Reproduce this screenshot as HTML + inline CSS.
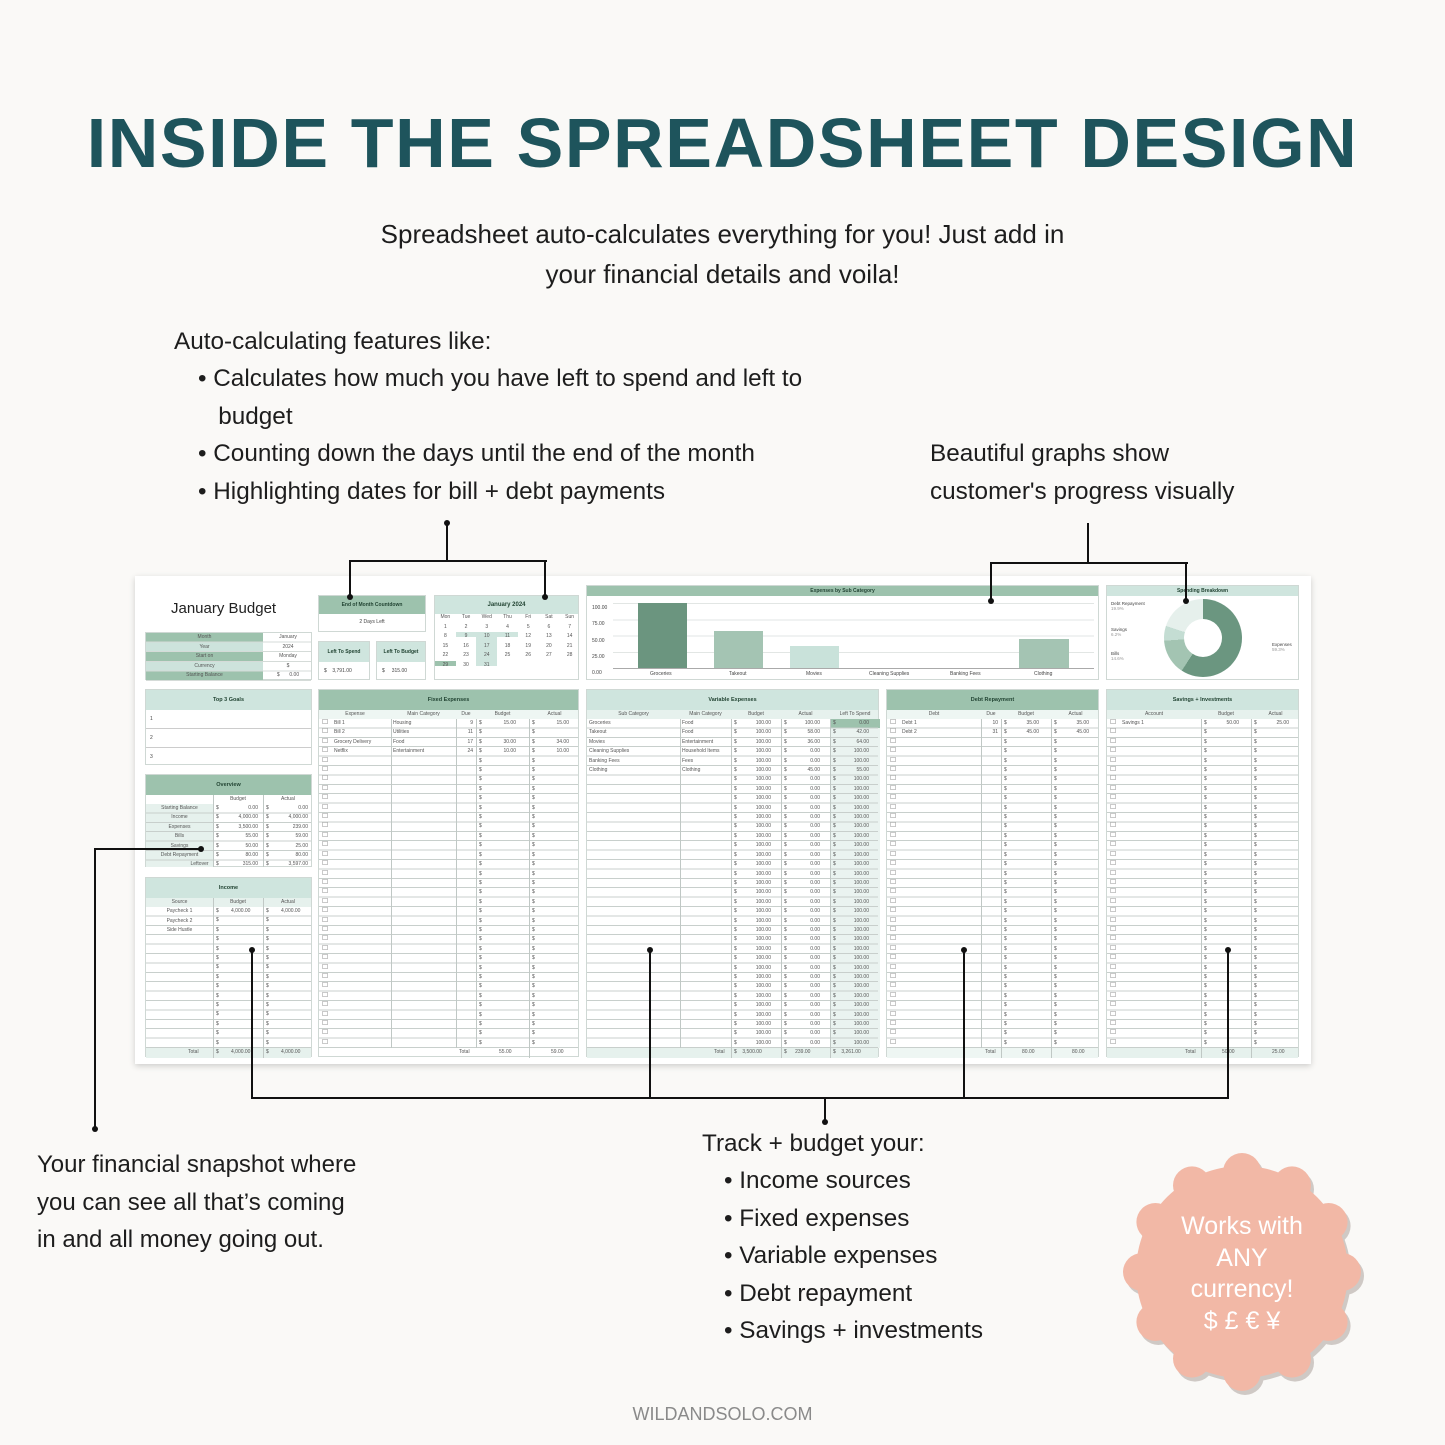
<!DOCTYPE html>
<html><head><meta charset="utf-8"><style>
*{margin:0;padding:0;box-sizing:border-box}
body{width:1445px;height:1445px;background:#faf9f7;position:relative;overflow:hidden;font-family:"Liberation Sans",sans-serif;color:#1d1d1d}
.a{position:absolute}
.t{font-size:24.3px;white-space:nowrap}
.ln{position:absolute;background:#111}
.dot{position:absolute;width:6px;height:6px;border-radius:50%;background:#111}
.sheet{position:absolute;left:135px;top:576px;width:1176px;height:488px;background:#fff;box-shadow:0 2px 6px rgba(0,0,0,.18)}
.s{position:absolute;font-size:5px;color:#444;white-space:nowrap}
.p{position:absolute;border:1px solid #cfd8d4;background:#fff}
.hg{position:absolute;left:0;right:0;top:0;background:#9dc2ad;font-size:5.5px;font-weight:bold;color:#243;text-align:center}
.hl{position:absolute;left:0;right:0;top:0;background:#cfe5de;font-size:5.5px;font-weight:bold;color:#243;text-align:center}
.rows{position:absolute;left:0;right:0;background-image:repeating-linear-gradient(to bottom,transparent 0 8.4px,#c8cfcc 8.4px 9.4px)}
.sub{position:absolute;left:0;right:0;background:#e6f1ed;font-size:5px;color:#444}
.vl{position:absolute;width:1px;background:#c0c8c5}
.col{position:absolute;font-size:5px;line-height:9.4px;color:#555;word-wrap:break-word}
.cbs{position:absolute;width:8px;font-family:"DejaVu Sans",sans-serif;font-size:7px;line-height:9.4px;color:#777;word-wrap:break-word}
</style></head><body>

<div class="a" style="left:0;width:1445px;top:100px;text-align:center;font-size:70px;font-weight:bold;letter-spacing:1.6px;color:#1e545c;line-height:86px">INSIDE THE SPREADSHEET DESIGN</div>

<div class="a t" style="left:0;width:1445px;text-align:center;top:214px;line-height:40px;font-size:26px">Spreadsheet auto-calculates everything for you! Just add in<br>your financial details and voila!</div>

<div class="a t" style="left:174px;top:323px;line-height:37.5px">Auto-calculating features like:</div>
<div class="a t" style="left:198px;top:360px;line-height:37.5px">•&nbsp;Calculates how much you have left to spend and left to<br>&nbsp;&nbsp;&nbsp;budget<br>•&nbsp;Counting down the days until the end of the month<br>•&nbsp;Highlighting dates for bill + debt payments</div>
<div class="a t" style="left:930px;top:435px;line-height:37.5px">Beautiful graphs show<br>customer's progress visually</div>

<div class="a t" style="left:37px;top:1146px;line-height:37.5px;font-size:24px">Your financial snapshot where<br>you can see all that’s coming<br>in and all money going out.</div>
<div class="a t" style="left:702px;top:1125px;line-height:37.5px">Track + budget your:</div>
<div class="a t" style="left:724px;top:1162px;line-height:37.5px">•&nbsp;Income sources<br>•&nbsp;Fixed expenses<br>•&nbsp;Variable expenses<br>•&nbsp;Debt repayment<br>•&nbsp;Savings + investments</div>

<div class="a" style="left:0;width:1445px;text-align:center;top:1404px;font-size:18px;color:#8a8a8a">WILDANDSOLO.COM</div>

<!-- badge -->
<svg class="a" style="left:1115px;top:1145px" width="255" height="255" viewBox="0 0 255 255">
<g fill="#a59a95" opacity=".5" transform="translate(3,4)">
<circle cx="127" cy="127" r="106"/>
<circle cx="127" cy="27" r="19"/><circle cx="177" cy="40.4" r="19"/><circle cx="213.6" cy="77" r="19"/><circle cx="227" cy="127" r="19"/><circle cx="213.6" cy="177" r="19"/><circle cx="177" cy="213.6" r="19"/><circle cx="127" cy="227" r="19"/><circle cx="77" cy="213.6" r="19"/><circle cx="40.4" cy="177" r="19"/><circle cx="27" cy="127" r="19"/><circle cx="40.4" cy="77" r="19"/><circle cx="77" cy="40.4" r="19"/>
</g>
<g fill="#f2b8a6">
<circle cx="127" cy="127" r="106"/>
<circle cx="127" cy="27" r="19"/><circle cx="177" cy="40.4" r="19"/><circle cx="213.6" cy="77" r="19"/><circle cx="227" cy="127" r="19"/><circle cx="213.6" cy="177" r="19"/><circle cx="177" cy="213.6" r="19"/><circle cx="127" cy="227" r="19"/><circle cx="77" cy="213.6" r="19"/><circle cx="40.4" cy="177" r="19"/><circle cx="27" cy="127" r="19"/><circle cx="40.4" cy="77" r="19"/><circle cx="77" cy="40.4" r="19"/>
</g></svg>
<div class="a" style="left:1142px;width:200px;top:1211px;text-align:center;color:#fff;font-size:25px;line-height:31.5px">Works with<br>ANY<br>currency!<br>$ £ € ¥</div>

<div class="sheet"></div>

<div class="a" style="left:171px;top:600px;font-size:15px;color:#222">January Budget</div>
<div class="p" style="left:145px;top:632px;width:167px;height:48px">
 <div class="a" style="left:0;top:0;width:117px;height:48px;background:repeating-linear-gradient(to bottom,#9dc2ad 0 9.6px,#cde3dc 9.6px 19.2px)"></div>
 <div class="rows" style="top:0;height:48px;background-image:repeating-linear-gradient(to bottom,transparent 0 8.6px,#d5dbd8 8.6px 9.6px)"></div>
 <div class="col" style="left:0;width:117px;top:0;text-align:center;line-height:9.6px">Month<br>Year<br>Start on<br>Currency<br>Starting Balance</div>
 <div class="col" style="left:117px;width:50px;top:0;text-align:center;line-height:9.6px">January<br>2024<br>Monday<br>$<br>$ &nbsp;&nbsp;&nbsp;&nbsp;&nbsp;&nbsp;0.00</div>
</div>

<div class="p" style="left:318px;top:595px;width:108px;height:37px"><div class="hg" style="height:18px;line-height:18px;font-size:5px">End of Month Countdown</div><div class="s" style="left:0;right:0;top:23px;text-align:center">2 Days Left</div></div>
<div class="p" style="left:318px;top:641px;width:52px;height:39px"><div class="hl" style="height:20px;line-height:20px;font-size:5px">Left To Spend</div><div class="s" style="left:5px;top:26px">$ &nbsp;&nbsp;&nbsp;3,791.00</div></div>
<div class="p" style="left:376px;top:641px;width:50px;height:39px"><div class="hl" style="height:20px;line-height:20px;font-size:5px">Left To Budget</div><div class="s" style="left:5px;top:26px">$ &nbsp;&nbsp;&nbsp;&nbsp;315.00</div></div>

<div class="p" style="left:434px;top:595px;width:145px;height:85px">
 <div class="hl" style="height:18px;line-height:18px;font-size:6px">January 2024</div>
 <div class="a" style="left:20.7px;top:36px;width:20.7px;height:5px;background:#cfe5de"></div>
 <div class="a" style="left:41.4px;top:36px;width:20.7px;height:34px;background:#cfe5de"></div>
 <div class="a" style="left:62.1px;top:36px;width:20.7px;height:5px;background:#cfe5de"></div>
 <div class="a" style="left:0;top:65px;width:20.7px;height:5px;background:#9dc2ad"></div>
 <div class="col" style="left:0;top:17px;width:145px;line-height:9.6px;font-size:5px">
 <div style="display:grid;grid-template-columns:repeat(7,1fr);text-align:center">
 <span>Mon</span><span>Tue</span><span>Wed</span><span>Thu</span><span>Fri</span><span>Sat</span><span>Sun</span>
 <span>1</span><span>2</span><span>3</span><span>4</span><span>5</span><span>6</span><span>7</span>
 <span>8</span><span>9</span><span>10</span><span>11</span><span>12</span><span>13</span><span>14</span>
 <span>15</span><span>16</span><span>17</span><span>18</span><span>19</span><span>20</span><span>21</span>
 <span>22</span><span>23</span><span>24</span><span>25</span><span>26</span><span>27</span><span>28</span>
 <span>29</span><span>30</span><span>31</span></div></div>
</div>

<div class="p" style="left:586px;top:585px;width:513px;height:95px">
 <div class="hg" style="height:10px;line-height:10px;font-size:5px">Expenses by Sub Category</div>
 <div class="s" style="left:5px;top:14px;line-height:16.3px">100.00<br>75.00<br>50.00<br>25.00<br>0.00</div>
 <div class="a" style="left:26px;right:4px;top:17px;height:66px;background:repeating-linear-gradient(to bottom,#e2e6e4 0 1px,transparent 1px 16.3px)"></div>
 <div class="a" style="left:26px;right:4px;top:82px;height:1px;background:#aaa"></div>
 <div class="a" style="left:51px;top:17px;width:49px;height:65px;background:#6b957f"></div>
 <div class="a" style="left:127px;top:45px;width:49px;height:37px;background:#a4c4b3"></div>
 <div class="a" style="left:203px;top:60px;width:49px;height:22px;background:#c9e2da"></div>
 <div class="a" style="left:432px;top:53px;width:50px;height:29px;background:#a4c4b3"></div>
 <div class="s" style="left:63px;top:85px">Groceries</div><div class="s" style="left:142px;top:85px">Takeout</div><div class="s" style="left:219px;top:85px">Movies</div><div class="s" style="left:282px;top:85px">Cleaning Supplies</div><div class="s" style="left:363px;top:85px">Banking Fees</div><div class="s" style="left:447px;top:85px">Clothing</div>
</div>

<div class="p" style="left:1106px;top:585px;width:193px;height:95px">
 <div class="hl" style="height:10px;line-height:10px;font-size:5px">Spending Breakdown</div>
 <div class="a" style="left:57px;top:13px;width:78px;height:78px;border-radius:50%;background:conic-gradient(#6b9680 0 213deg,#a3c4b2 213deg 266deg,#c4ddd3 266deg 288deg,#e6f0ec 288deg 360deg)"></div>
 <div class="a" style="left:77px;top:33px;width:38px;height:38px;border-radius:50%;background:#fff"></div>
 <div class="s" style="left:4px;top:15px;line-height:5px;font-size:4.5px">Debt Repayment<br><span style="color:#999">19.9%</span></div>
 <div class="s" style="left:4px;top:41px;line-height:5px;font-size:4.5px">Savings<br><span style="color:#999">6.2%</span></div>
 <div class="s" style="left:4px;top:65px;line-height:5px;font-size:4.5px">Bills<br><span style="color:#999">14.6%</span></div>
 <div class="s" style="left:165px;top:56px;line-height:5px;font-size:4.5px">Expenses<br><span style="color:#999">59.3%</span></div>
</div>

<div class="p" style="left:145px;top:689px;width:167px;height:76px">
 <div class="hl" style="height:20px;line-height:20px">Top 3 Goals</div>
 <div class="a" style="left:0;right:0;top:38px;height:1px;background:#ccc"></div>
 <div class="a" style="left:0;right:0;top:57px;height:1px;background:#ccc"></div>
 <div class="s" style="left:4px;top:26px">1</div><div class="s" style="left:4px;top:45px">2</div><div class="s" style="left:4px;top:64px">3</div>
</div>

<div class="p" style="left:145px;top:774px;width:167px;height:93px">
 <div class="hg" style="height:20px;line-height:20px">Overview</div>
 <div class="a" style="left:0;top:29px;width:67px;height:63px;background:#e6f1ed"></div>
 <div class="rows" style="top:29px;height:63px"></div>
 <div class="vl" style="left:67px;top:20px;height:72px"></div><div class="vl" style="left:117px;top:20px;height:72px"></div>
 <div class="col" style="left:67px;width:50px;top:20px;text-align:center">Budget</div><div class="col" style="left:117px;width:50px;top:20px;text-align:center">Actual</div>
 <div class="col" style="left:0;width:67px;top:29px;text-align:center">Starting Balance<br>Income<br>Expenses<br>Bills<br>Savings<br>Debt Repayment<br><span style="padding-left:40px">Leftover</span></div>
 <div class="col" style="left:70px;width:42px;top:29px">$ <span style="float:right">0.00</span><br>$ <span style="float:right">4,000.00</span><br>$ <span style="float:right">3,500.00</span><br>$ <span style="float:right">55.00</span><br>$ <span style="float:right">50.00</span><br>$ <span style="float:right">80.00</span><br>$ <span style="float:right">315.00</span></div>
 <div class="col" style="left:120px;width:42px;top:29px">$ <span style="float:right">0.00</span><br>$ <span style="float:right">4,000.00</span><br>$ <span style="float:right">239.00</span><br>$ <span style="float:right">59.00</span><br>$ <span style="float:right">25.00</span><br>$ <span style="float:right">80.00</span><br>$ <span style="float:right">3,597.00</span></div>
</div>

<div class="p" style="left:145px;top:877px;width:167px;height:180px">
 <div class="hl" style="height:20px;line-height:20px">Income</div>
 <div class="sub" style="top:20px;height:9px"></div>
 <div class="rows" style="top:29px;height:141px"></div>
 <div class="sub" style="top:170px;height:10px"></div>
 <div class="vl" style="left:67px;top:20px;height:160px"></div><div class="vl" style="left:117px;top:20px;height:160px"></div>
 <div class="col" style="left:0;width:67px;top:20px;text-align:center">Source<br>Paycheck 1<br>Paycheck 2<br>Side Hustle</div>
 <div class="col" style="left:67px;width:50px;top:20px;text-align:center">Budget</div><div class="col" style="left:117px;width:50px;top:20px;text-align:center">Actual</div>
 <div class="col" style="left:70px;width:3px;top:29px">$ $ $ $ $ $ $ $ $ $ $ $ $ $ $ $</div>
 <div class="col" style="left:120px;width:3px;top:29px">$ $ $ $ $ $ $ $ $ $ $ $ $ $ $ $</div>
 <div class="col" style="left:85px;top:29px">4,000.00</div><div class="col" style="left:135px;top:29px">4,000.00</div>
 <div class="col" style="left:42px;top:170px">Total</div><div class="col" style="left:85px;top:170px">4,000.00</div><div class="col" style="left:135px;top:170px">4,000.00</div>
</div>

<div class="p" style="left:318px;top:689px;width:261px;height:368px">
 <div class="hg" style="height:20px;line-height:20px">Fixed Expenses</div>
 <div class="sub" style="top:20px;height:9px;background:#eef6f3"></div>
 <div class="rows" style="top:29px;height:329px"></div>
 <div class="vl" style="left:72px;top:29px;height:329px"></div><div class="vl" style="left:137px;top:29px;height:329px"></div><div class="vl" style="left:157px;top:29px;height:329px"></div><div class="vl" style="left:210px;top:29px;height:339px"></div>
 <div class="cbs" style="left:3px;top:28px">☐ ☐ ☐ ☐ ☐ ☐ ☐ ☐ ☐ ☐ ☐ ☐ ☐ ☐ ☐ ☐ ☐ ☐ ☐ ☐ ☐ ☐ ☐ ☐ ☐ ☐ ☐ ☐ ☐ ☐ ☐ ☐ ☐ ☐ ☐</div>
 <div class="col" style="left:0;width:72px;top:20px;text-align:center">Expense</div><div class="col" style="left:72px;width:65px;top:20px;text-align:center">Main Category</div><div class="col" style="left:137px;width:20px;top:20px;text-align:center">Due</div><div class="col" style="left:157px;width:53px;top:20px;text-align:center">Budget</div><div class="col" style="left:210px;width:51px;top:20px;text-align:center">Actual</div>
 <div class="col" style="left:15px;top:29px">Bill 1<br>Bill 2<br>Grocery Delivery<br>Netflix</div>
 <div class="col" style="left:74px;top:29px">Housing<br>Utilities<br>Food<br>Entertainment</div>
 <div class="col" style="left:137px;width:17px;top:29px;text-align:right">9<br>11<br>17<br>24</div>
 <div class="col" style="left:160px;width:3px;top:29px">$ $ $ $ $ $ $ $ $ $ $ $ $ $ $ $ $ $ $ $ $ $ $ $ $ $ $ $ $ $ $ $ $ $ $</div>
 <div class="col" style="left:213px;width:3px;top:29px">$ $ $ $ $ $ $ $ $ $ $ $ $ $ $ $ $ $ $ $ $ $ $ $ $ $ $ $ $ $ $ $ $ $ $</div>
 <div class="col" style="left:175px;width:22px;top:29px;text-align:right">15.00<br><br>30.00<br>10.00</div>
 <div class="col" style="left:228px;width:22px;top:29px;text-align:right">15.00<br><br>34.00<br>10.00</div>
 <div class="col" style="left:140px;top:358px">Total</div><div class="col" style="left:180px;top:358px">55.00</div><div class="col" style="left:232px;top:358px">59.00</div>
</div>

<div class="p" style="left:586px;top:689px;width:293px;height:368px">
 <div class="hl" style="height:20px;line-height:20px">Variable Expenses</div>
 <div class="sub" style="top:20px;height:9px"></div>
 <div class="a" style="left:243px;top:29px;width:50px;height:329px;background:#eaf3f0"></div>
 <div class="a" style="left:243px;top:29px;width:50px;height:9.4px;background:#9dc2ad"></div>
 <div class="rows" style="top:29px;height:329px"></div>
 <div class="sub" style="top:358px;height:10px"></div>
 <div class="vl" style="left:93px;top:29px;height:329px"></div><div class="vl" style="left:144px;top:29px;height:339px"></div><div class="vl" style="left:194px;top:29px;height:339px"></div><div class="vl" style="left:243px;top:29px;height:339px"></div>
 <div class="col" style="left:0;width:93px;top:20px;text-align:center">Sub Category</div><div class="col" style="left:93px;width:51px;top:20px;text-align:center">Main Category</div><div class="col" style="left:144px;width:50px;top:20px;text-align:center">Budget</div><div class="col" style="left:194px;width:49px;top:20px;text-align:center">Actual</div><div class="col" style="left:243px;width:50px;top:20px;text-align:center">Left To Spend</div>
 <div class="col" style="left:2px;top:29px">Groceries<br>Takeout<br>Movies<br>Cleaning Supplies<br>Banking Fees<br>Clothing</div>
 <div class="col" style="left:95px;top:29px">Food<br>Food<br>Entertainment<br>Household Items<br>Fees<br>Clothing</div>
 <div class="col" style="left:147px;width:3px;top:29px">$ $ $ $ $ $ $ $ $ $ $ $ $ $ $ $ $ $ $ $ $ $ $ $ $ $ $ $ $ $ $ $ $ $ $</div>
 <div class="col" style="left:197px;width:3px;top:29px">$ $ $ $ $ $ $ $ $ $ $ $ $ $ $ $ $ $ $ $ $ $ $ $ $ $ $ $ $ $ $ $ $ $ $</div>
 <div class="col" style="left:246px;width:3px;top:29px">$ $ $ $ $ $ $ $ $ $ $ $ $ $ $ $ $ $ $ $ $ $ $ $ $ $ $ $ $ $ $ $ $ $ $</div>
 <div class="col" style="left:166px;width:18px;top:29px;text-align:right">100.00 100.00 100.00 100.00 100.00 100.00 100.00 100.00 100.00 100.00 100.00 100.00 100.00 100.00 100.00 100.00 100.00 100.00 100.00 100.00 100.00 100.00 100.00 100.00 100.00 100.00 100.00 100.00 100.00 100.00 100.00 100.00 100.00 100.00 100.00</div>
 <div class="col" style="left:215px;width:18px;top:29px;text-align:right">100.00<br>58.00<br>36.00<br>0.00<br>0.00<br>45.00<br>0.00<br>0.00<br>0.00<br>0.00<br>0.00<br>0.00<br>0.00<br>0.00<br>0.00<br>0.00<br>0.00<br>0.00<br>0.00<br>0.00<br>0.00<br>0.00<br>0.00<br>0.00<br>0.00<br>0.00<br>0.00<br>0.00<br>0.00<br>0.00<br>0.00<br>0.00<br>0.00<br>0.00<br>0.00</div>
 <div class="col" style="left:264px;width:18px;top:29px;text-align:right">0.00<br>42.00<br>64.00<br>100.00<br>100.00<br>55.00 100.00 100.00 100.00 100.00 100.00 100.00 100.00 100.00 100.00 100.00 100.00 100.00 100.00 100.00 100.00 100.00 100.00 100.00 100.00 100.00 100.00 100.00 100.00 100.00 100.00 100.00 100.00 100.00 100.00</div>
 <div class="col" style="left:127px;top:358px">Total</div><div class="col" style="left:147px;top:358px">$ &nbsp;&nbsp;&nbsp;3,500.00</div><div class="col" style="left:197px;top:358px">$ &nbsp;&nbsp;&nbsp;&nbsp;&nbsp;239.00</div><div class="col" style="left:246px;top:358px">$ &nbsp;&nbsp;&nbsp;3,261.00</div>
</div>

<div class="p" style="left:886px;top:689px;width:213px;height:368px">
 <div class="hg" style="height:20px;line-height:20px">Debt Repayment</div>
 <div class="sub" style="top:20px;height:9px;background:#eef6f3"></div>
 <div class="rows" style="top:29px;height:329px"></div>
 <div class="sub" style="top:358px;height:10px;background:#eef6f3"></div>
 <div class="vl" style="left:94px;top:29px;height:329px"></div><div class="vl" style="left:114px;top:29px;height:339px"></div><div class="vl" style="left:164px;top:29px;height:339px"></div>
 <div class="cbs" style="left:3px;top:28px">☐ ☐ ☐ ☐ ☐ ☐ ☐ ☐ ☐ ☐ ☐ ☐ ☐ ☐ ☐ ☐ ☐ ☐ ☐ ☐ ☐ ☐ ☐ ☐ ☐ ☐ ☐ ☐ ☐ ☐ ☐ ☐ ☐ ☐ ☐</div>
 <div class="col" style="left:0;width:94px;top:20px;text-align:center">Debt</div><div class="col" style="left:94px;width:20px;top:20px;text-align:center">Due</div><div class="col" style="left:114px;width:50px;top:20px;text-align:center">Budget</div><div class="col" style="left:164px;width:49px;top:20px;text-align:center">Actual</div>
 <div class="col" style="left:15px;top:29px">Debt 1<br>Debt 2</div>
 <div class="col" style="left:94px;width:17px;top:29px;text-align:right">10<br>31</div>
 <div class="col" style="left:117px;width:3px;top:29px">$ $ $ $ $ $ $ $ $ $ $ $ $ $ $ $ $ $ $ $ $ $ $ $ $ $ $ $ $ $ $ $ $ $ $</div>
 <div class="col" style="left:167px;width:3px;top:29px">$ $ $ $ $ $ $ $ $ $ $ $ $ $ $ $ $ $ $ $ $ $ $ $ $ $ $ $ $ $ $ $ $ $ $</div>
 <div class="col" style="left:130px;width:22px;top:29px;text-align:right">35.00<br>45.00</div><div class="col" style="left:180px;width:22px;top:29px;text-align:right">35.00<br>45.00</div>
 <div class="col" style="left:98px;top:358px">Total</div><div class="col" style="left:135px;top:358px">80.00</div><div class="col" style="left:185px;top:358px">80.00</div>
</div>

<div class="p" style="left:1106px;top:689px;width:193px;height:368px">
 <div class="hl" style="height:20px;line-height:20px">Savings + Investments</div>
 <div class="sub" style="top:20px;height:9px"></div>
 <div class="rows" style="top:29px;height:329px"></div>
 <div class="sub" style="top:358px;height:10px"></div>
 <div class="vl" style="left:94px;top:29px;height:339px"></div><div class="vl" style="left:144px;top:29px;height:339px"></div>
 <div class="cbs" style="left:3px;top:28px">☐ ☐ ☐ ☐ ☐ ☐ ☐ ☐ ☐ ☐ ☐ ☐ ☐ ☐ ☐ ☐ ☐ ☐ ☐ ☐ ☐ ☐ ☐ ☐ ☐ ☐ ☐ ☐ ☐ ☐ ☐ ☐ ☐ ☐ ☐</div>
 <div class="col" style="left:0;width:94px;top:20px;text-align:center">Account</div><div class="col" style="left:94px;width:50px;top:20px;text-align:center">Budget</div><div class="col" style="left:144px;width:49px;top:20px;text-align:center">Actual</div>
 <div class="col" style="left:15px;top:29px">Savings 1</div>
 <div class="col" style="left:97px;width:3px;top:29px">$ $ $ $ $ $ $ $ $ $ $ $ $ $ $ $ $ $ $ $ $ $ $ $ $ $ $ $ $ $ $ $ $ $ $</div>
 <div class="col" style="left:147px;width:3px;top:29px">$ $ $ $ $ $ $ $ $ $ $ $ $ $ $ $ $ $ $ $ $ $ $ $ $ $ $ $ $ $ $ $ $ $ $</div>
 <div class="col" style="left:110px;width:22px;top:29px;text-align:right">50.00</div><div class="col" style="left:160px;width:22px;top:29px;text-align:right">25.00</div>
 <div class="col" style="left:78px;top:358px">Total</div><div class="col" style="left:115px;top:358px">50.00</div><div class="col" style="left:165px;top:358px">25.00</div>
</div>

<div class="ln" style="left:446px;top:523px;width:2px;height:39px"></div>
<div class="ln" style="left:349px;top:560px;width:198px;height:2px"></div>
<div class="ln" style="left:349px;top:560px;width:2px;height:38px"></div>
<div class="ln" style="left:544px;top:560px;width:2px;height:38px"></div>
<div class="dot" style="left:444px;top:520px"></div><div class="dot" style="left:347px;top:594px"></div><div class="dot" style="left:542px;top:594px"></div>

<div class="ln" style="left:1087px;top:523px;width:2px;height:41px"></div>
<div class="ln" style="left:990px;top:562px;width:198px;height:2px"></div>
<div class="ln" style="left:990px;top:562px;width:2px;height:39px"></div>
<div class="ln" style="left:1185px;top:562px;width:2px;height:39px"></div>
<div class="dot" style="left:988px;top:598px"></div><div class="dot" style="left:1183px;top:598px"></div>

<div class="ln" style="left:95px;top:848px;width:106px;height:2px"></div>
<div class="ln" style="left:94px;top:848px;width:2px;height:280px"></div>
<div class="dot" style="left:198px;top:846px"></div><div class="dot" style="left:92px;top:1126px"></div>

<div class="ln" style="left:251px;top:950px;width:2px;height:149px"></div>
<div class="ln" style="left:649px;top:950px;width:2px;height:149px"></div>
<div class="ln" style="left:963px;top:950px;width:2px;height:149px"></div>
<div class="ln" style="left:1227px;top:950px;width:2px;height:149px"></div>
<div class="ln" style="left:251px;top:1097px;width:978px;height:2px"></div>
<div class="ln" style="left:824px;top:1097px;width:2px;height:25px"></div>
<div class="dot" style="left:249px;top:947px"></div><div class="dot" style="left:647px;top:947px"></div><div class="dot" style="left:961px;top:947px"></div><div class="dot" style="left:1225px;top:947px"></div><div class="dot" style="left:822px;top:1119px"></div>
</body></html>
